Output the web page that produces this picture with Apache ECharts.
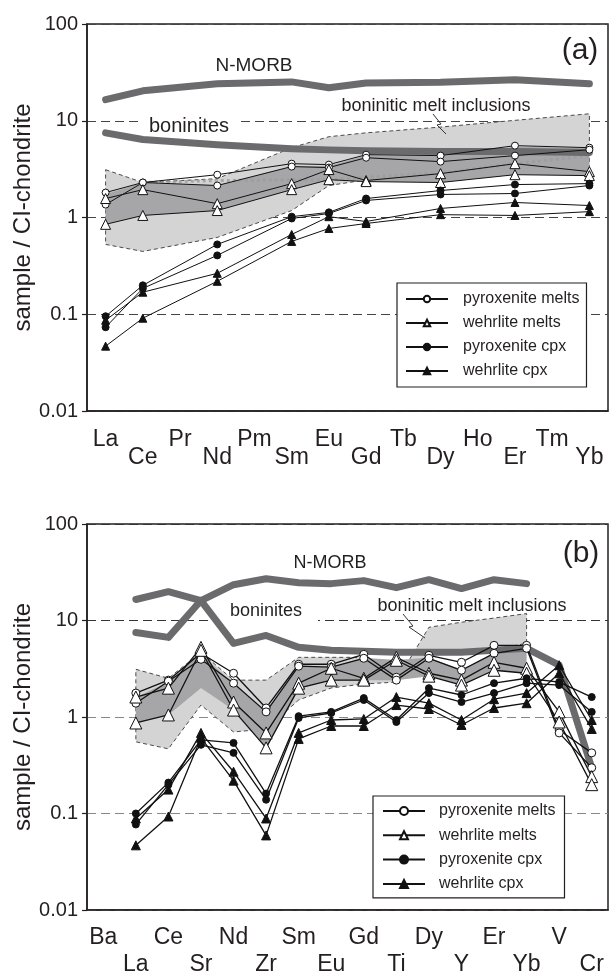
<!DOCTYPE html>
<html>
<head>
<meta charset="utf-8">
<script src="https://cdn.jsdelivr.net/npm/echarts@6/dist/echarts.min.js"></script>
<style>
html,body{margin:0;padding:0;background:#fff}
#chart{width:610px;height:979px}
</style>
</head>
<body>
<div id="chart"></div>
<script>
// ---------- (a) REE pattern ----------
const catsA = ['La','Ce','Pr','Nd','Pm','Sm','Eu','Gd','Tb','Dy','Ho','Er','Tm','Yb'];
const nmorbA    = [16.5, 20.4, null, 24.1, null, 25.2, 21.9, 24.6, null, 25.0, null, 26.5, null, 24.1];
const boninA    = [7.5, 6.4, null, 5.66, null, 5.15, 5.0, 4.9, null, 4.8, null, 4.8, null, 4.7];
const pyxMeltA1 = [1.81, 2.30, null, 2.77, null, 3.60, 3.52, 4.46, null, 4.36, null, 5.53, null, 5.27];
const pyxMeltA2 = [1.36, 2.30, null, 2.14, null, 3.36, 3.28, 4.15, null, 3.78, null, 4.36, null, 5.02];
const wehMeltA1 = [1.57, 1.94, null, 1.39, null, 2.24, 3.13, 2.41, null, 2.84, null, 3.60, null, 2.98];
const wehMeltA2 = [0.85, 1.05, null, 1.18, null, 1.94, 2.46, 2.35, null, 2.30, null, 2.77, null, 2.71];
const pyxCpxA1  = [0.0953, 0.199, null, 0.527, null, 1.02, 1.13, 1.57, null, 1.90, null, 2.19, null, 2.24];
const pyxCpxA2  = [0.0734, 0.185, null, 0.406, null, 0.977, 1.10, 1.50, null, 1.73, null, 1.77, null, 2.14];
const wehCpxA1  = [0.0867, 0.169, null, 0.265, null, 0.668, 1.02, 0.909, null, 1.24, null, 1.43, null, 1.33];
const wehCpxA2  = [0.0468, 0.091, null, 0.219, null, 0.566, 0.770, 0.867, null, 1.07, null, 1.05, null, 1.15];
// boninitic melt inclusion field (upper / lower bounds)
const incUpperA = [3.12, 2.30, null, 2.52, null, 5.27, 6.84, 7.5, null, 8.6, null, 10.1, null, 11.8];
const incLowerA = [0.527, 0.446, null, 0.622, null, 1.18, 2.14, 2.45, null, 2.5, null, 2.9, null, 2.8];
// modelled melt envelope
const envUpperA = [1.75, 2.28, null, 2.14, null, 3.4, 3.4, 4.4, null, 4.3, null, 5.4, null, 5.2];
const envLowerA = [0.85, 1.05, null, 1.18, null, 1.94, 2.46, 2.35, null, 2.30, null, 2.77, null, 2.71];
const incMeanA  = [null, 2.3, null, 2.41, null, 2.45, 2.45, 2.6, null, 2.9, null, 3.6, null, 4.36];

// ---------- (b) extended trace element pattern ----------
const catsB = ['Ba','La','Ce','Sr','Nd','Zr','Sm','Eu','Gd','Ti','Dy','Y','Er','Yb','V','Cr'];
const nmorbB    = [null, 16.5, 19.9, 16.1, 23.5, 27.1, 24.6, 24.1, 25.9, 21.9, 26.5, 21.4, 26.5, 24.1, null, null];
const boninB    = [null, 7.52, 6.68, 16.1, 5.79, 7.0, 5.27, 4.91, 4.80, 4.68, 4.68, 4.68, 4.91, 5.15, 3.44, 0.298];
const pyxMeltB1 = [null, 1.77, 2.41, 4.57, 2.84, 1.24, 3.52, 3.52, 4.46, 2.58, 4.36, 3.69, 5.53, 5.53, 0.734, 0.425];
const pyxMeltB2 = [null, 1.39, 2.35, 3.96, 2.24, 1.13, 3.36, 3.28, 4.06, 2.41, 4.06, 3.05, 4.57, 5.15, 0.684, 0.298];
const wehMeltB1 = [null, 1.61, 1.99, 5.27, 1.43, 0.684, 2.24, 3.20, 2.52, 4.15, 2.84, 2.41, 3.69, 3.20, 1.13, 0.241];
const wehMeltB2 = [null, 0.867, 1.05, 4.91, 1.18, 0.479, 1.99, 2.41, 2.41, 3.87, 2.65, 2.14, 3.05, 2.84, 0.888, 0.199];
const pyxCpxB1  = [null, 0.1, 0.209, 0.579, 0.539, 0.161, 1.02, 1.13, 1.57, 0.931, 1.99, 1.69, 2.24, 2.52, 2.30, 1.61];
const pyxCpxB2  = [null, 0.077, 0.199, 0.515, 0.425, 0.139, 0.977, 1.10, 1.50, 0.888, 1.77, 1.43, 1.77, 2.24, 2.14, 1.13];
const wehCpxB1  = [null, 0.0888, 0.177, 0.684, 0.271, 0.0888, 0.684, 0.931, 0.954, 1.61, 1.39, 0.931, 1.53, 1.77, 3.44, 0.931];
const wehCpxB2  = [null, 0.0468, 0.0931, 0.608, 0.219, 0.0593, 0.593, 0.807, 0.807, 1.33, 1.21, 0.827, 1.24, 1.39, 2.84, 0.752];
const incUpperB = [null, 3.12, 2.52, 4.67, 2.41, 2.41, 4.15, 4.15, 4.15, 2.35, 8.5, 9.6, 10.6, 11.8, null, null];
const incLowerB = [null, 0.553, 0.468, 1.33, 0.70, 0.75, 1.5, 2.0, 2.2, 2.3, 4.5, 4.5, 5.0, 5.8, null, null];
const envUpperB = [null, 1.6, 2.3, 4.5, 2.2, 1.15, 3.3, 3.3, 4.1, 3.9, 4.1, 3.1, 4.6, 5.2, null, null];
const envLowerB = [null, 0.867, 1.05, 2.0, 1.18, 0.479, 1.99, 2.41, 2.41, 2.4, 2.65, 2.14, 3.05, 2.84, null, null];

const yTickLabels = ['0.01', '0.1', '1', '10', '100'];
const legendNames = ['pyroxenite melts', 'wehrlite melts', 'pyroxenite cpx', 'wehrlite cpx'];

const FONT = '"Liberation Sans", Arial, Helvetica, sans-serif';
const INK = '#231f20';

const chart = echarts.init(document.getElementById('chart'), null, { renderer: 'canvas' });

function logLabel(v) {
  const k = Math.round(Math.log10(v)) + 2;
  return yTickLabels[k] !== undefined ? yTickLabels[k] : '';
}

function xAxisFor(gi, cats, margin, lineHeight) {
  return {
    type: 'category', gridIndex: gi, data: cats, boundaryGap: true,
    axisLine: { lineStyle: { color: INK, width: 1.5 } },
    axisTick: { alignWithLabel: true, length: 5, lineStyle: { color: INK, width: 1.2 } },
    axisLabel: {
      interval: 0, margin: margin, color: INK, fontFamily: FONT, fontSize: 23,
      lineHeight: lineHeight, hideOverlap: false,
      formatter: (v, i) => (i % 2 === 0 ? v : '\n' + v)
    },
    splitLine: { show: false }
  };
}

function yAxisFor(gi, gridColors) {
  return {
    type: 'log', logBase: 10, gridIndex: gi, min: 0.01, max: 100,
    name: 'sample / CI-chondrite', nameLocation: 'middle', nameGap: 52, nameRotate: 90,
    nameMoveOverlap: false,
    nameTextStyle: { fontFamily: FONT, fontSize: 24, color: INK },
    axisLine: { show: true, lineStyle: { color: INK, width: 1.5 } },
    axisTick: { show: true, length: 5, lineStyle: { color: INK, width: 1.2 } },
    minorTick: { show: false },
    axisLabel: { color: INK, fontFamily: FONT, fontSize: 20, margin: 9, formatter: logLabel },
    splitLine: { show: true, lineStyle: { color: gridColors, width: 1.1, type: [9, 5] } }
  };
}

function fieldSeries(gi, upper, lower, fill, dashed, z) {
  return {
    type: 'custom', xAxisIndex: gi, yAxisIndex: gi, z: z, silent: true, clip: false,
    data: [[0, 1]],
    renderItem: function (params, api) {
      const pts = [];
      upper.forEach((v, i) => { if (v != null) pts.push(api.coord([i, v])); });
      for (let i = lower.length - 1; i >= 0; i--) {
        if (lower[i] != null) pts.push(api.coord([i, lower[i]]));
      }
      return {
        type: 'polygon', shape: { points: pts },
        style: { fill: fill, stroke: dashed ? '#4a4a4a' : null, lineWidth: 1, lineDash: dashed ? [4, 3] : null }
      };
    }
  };
}

function thickSeries(gi, data, name) {
  return {
    type: 'line', name: name, xAxisIndex: gi, yAxisIndex: gi, data: data,
    connectNulls: true, symbol: 'none', silent: true, z: 3,
    lineStyle: { color: '#6b6b6d', width: 7, cap: 'round', join: 'round' }
  };
}

const KINDS = {
  'pyroxenite melts': { symbol: 'circle', fill: '#fff' },
  'wehrlite melts':   { symbol: 'triangle', fill: '#fff' },
  'pyroxenite cpx':   { symbol: 'circle', fill: '#111' },
  'wehrlite cpx':     { symbol: 'triangle', fill: '#111' }
};

function sampleSeries(gi, data, name, size, lw) {
  const k = KINDS[name];
  return {
    type: 'line', name: name, xAxisIndex: gi, yAxisIndex: gi, data: data,
    connectNulls: true, symbol: k.symbol, symbolSize: size, z: 5,
    lineStyle: { color: '#111', width: lw },
    itemStyle: { color: k.fill, borderColor: '#111', borderWidth: 1 },
    emphasis: { disabled: true }
  };
}

const SZ_A = { 'pyroxenite melts': 7, 'wehrlite melts': 10, 'pyroxenite cpx': 7, 'wehrlite cpx': 8 };
const SZ_B = { 'pyroxenite melts': 8, 'wehrlite melts': 12, 'pyroxenite cpx': 7, 'wehrlite cpx': 9 };

const series = [
  // panel (a)
  fieldSeries(0, incUpperA, incLowerA, '#d4d4d5', true, 1),
  fieldSeries(0, envUpperA, envLowerA, '#a6a6a8', false, 2),
  {
    type: 'line', xAxisIndex: 0, yAxisIndex: 0, data: incMeanA, connectNulls: true, symbol: 'none', silent: true, z: 2,
    lineStyle: { color: '#9c9c9e', width: 3, type: [3, 3], opacity: 0.8 }
  },
  thickSeries(0, nmorbA, 'N-MORB'),
  thickSeries(0, boninA, 'boninites'),
  sampleSeries(0, pyxMeltA1, 'pyroxenite melts', SZ_A['pyroxenite melts'], 1),
  sampleSeries(0, pyxMeltA2, 'pyroxenite melts', SZ_A['pyroxenite melts'], 1),
  sampleSeries(0, wehMeltA1, 'wehrlite melts', SZ_A['wehrlite melts'], 1),
  sampleSeries(0, wehMeltA2, 'wehrlite melts', SZ_A['wehrlite melts'], 1),
  sampleSeries(0, pyxCpxA1, 'pyroxenite cpx', SZ_A['pyroxenite cpx'], 1),
  sampleSeries(0, pyxCpxA2, 'pyroxenite cpx', SZ_A['pyroxenite cpx'], 1),
  sampleSeries(0, wehCpxA1, 'wehrlite cpx', SZ_A['wehrlite cpx'], 1),
  sampleSeries(0, wehCpxA2, 'wehrlite cpx', SZ_A['wehrlite cpx'], 1),
  // panel (b)
  fieldSeries(1, incUpperB, incLowerB, '#d4d4d5', true, 1),
  fieldSeries(1, envUpperB, envLowerB, '#a6a6a8', false, 2),
  thickSeries(1, nmorbB, 'N-MORB'),
  thickSeries(1, boninB, 'boninites'),
  sampleSeries(1, pyxMeltB1, 'pyroxenite melts', SZ_B['pyroxenite melts'], 1.3),
  sampleSeries(1, pyxMeltB2, 'pyroxenite melts', SZ_B['pyroxenite melts'], 1.3),
  sampleSeries(1, wehMeltB1, 'wehrlite melts', SZ_B['wehrlite melts'], 1.3),
  sampleSeries(1, wehMeltB2, 'wehrlite melts', SZ_B['wehrlite melts'], 1.3),
  sampleSeries(1, pyxCpxB1, 'pyroxenite cpx', SZ_B['pyroxenite cpx'], 1.3),
  sampleSeries(1, pyxCpxB2, 'pyroxenite cpx', SZ_B['pyroxenite cpx'], 1.3),
  sampleSeries(1, wehCpxB1, 'wehrlite cpx', SZ_B['wehrlite cpx'], 1.3),
  sampleSeries(1, wehCpxB2, 'wehrlite cpx', SZ_B['wehrlite cpx'], 1.3)
];

function legendFor(left, top, pad, itemH, gap, textPad) {
  return {
    data: legendNames, orient: 'vertical', left: left, top: top,
    padding: pad, itemWidth: 42, itemHeight: itemH, itemGap: gap,
    borderColor: INK, borderWidth: 1.2, backgroundColor: '#fff',
    selectedMode: false, z: 10,
    textStyle: { fontFamily: FONT, fontSize: 16, color: INK, padding: [0, 0, 0, textPad] }
  };
}

function label(text, x, y, size, extra) {
  return Object.assign({
    type: 'text', z: 20,
    style: { text: text, x: x, y: y, fill: INK, font: size + 'px ' + FONT, textAlign: 'center', textVerticalAlign: 'middle' }
  }, extra || {});
}

const option = {
  animation: false,
  backgroundColor: '#fff',
  grid: [
    { left: 87, top: 24, width: 521, height: 387, show: true, borderColor: INK, borderWidth: 1.5, containLabel: false, outerBoundsMode: 'none' },
    { left: 87, top: 524, width: 521, height: 386, show: true, borderColor: INK, borderWidth: 1.5, containLabel: false, outerBoundsMode: 'none' }
  ],
  xAxis: [xAxisFor(0, catsA, 20, 18), xAxisFor(1, catsB, 14.5, 27)],
  yAxis: [
    yAxisFor(0, ['#444', '#444', '#444', '#444', '#444']),
    yAxisFor(1, ['#888', '#888', '#888', '#333', '#333'])
  ],
  legend: [
    legendFor(397, 283, [8, 7, 8, 8], 8, 8, 10),
    legendFor(373, 796, [7, 9, 6, 9], 10, 8.3, 9)
  ],
  series: series,
  graphic: [
    // gaps in the dashed 10-line behind the labels
    { type: 'text', z: 1, zlevel: 0, style: { text: 'boninites', x: 189, y: 126, fill: INK, font: '20px ' + FONT, textAlign: 'center', textVerticalAlign: 'middle', backgroundColor: '#fff', padding: [0, 8] } },
    { type: 'rect', z: 1, shape: { x: 213, y: 617, width: 105, height: 8 }, style: { fill: '#fff' } },
    label('N-MORB', 254, 66, 19),
    label('(a)', 580, 51, 30),
    label('boninitic melt inclusions', 436, 106, 18),
    { type: 'polyline', z: 20, shape: { points: [[433, 114], [441, 124], [437, 125], [446, 134]] }, style: { stroke: '#333', lineWidth: 1, fill: null } },
    label('N-MORB', 330, 563, 18),
    label('boninites', 266, 611, 18),
    label('(b)', 581, 554, 30),
    label('boninitic melt inclusions', 472, 606, 18),
    { type: 'polyline', z: 20, shape: { points: [[403, 614], [413, 626], [409, 627], [425, 638]] }, style: { stroke: '#333', lineWidth: 1, fill: null } }
  ]
};

chart.setOption(option);
</script>
</body>
</html>
